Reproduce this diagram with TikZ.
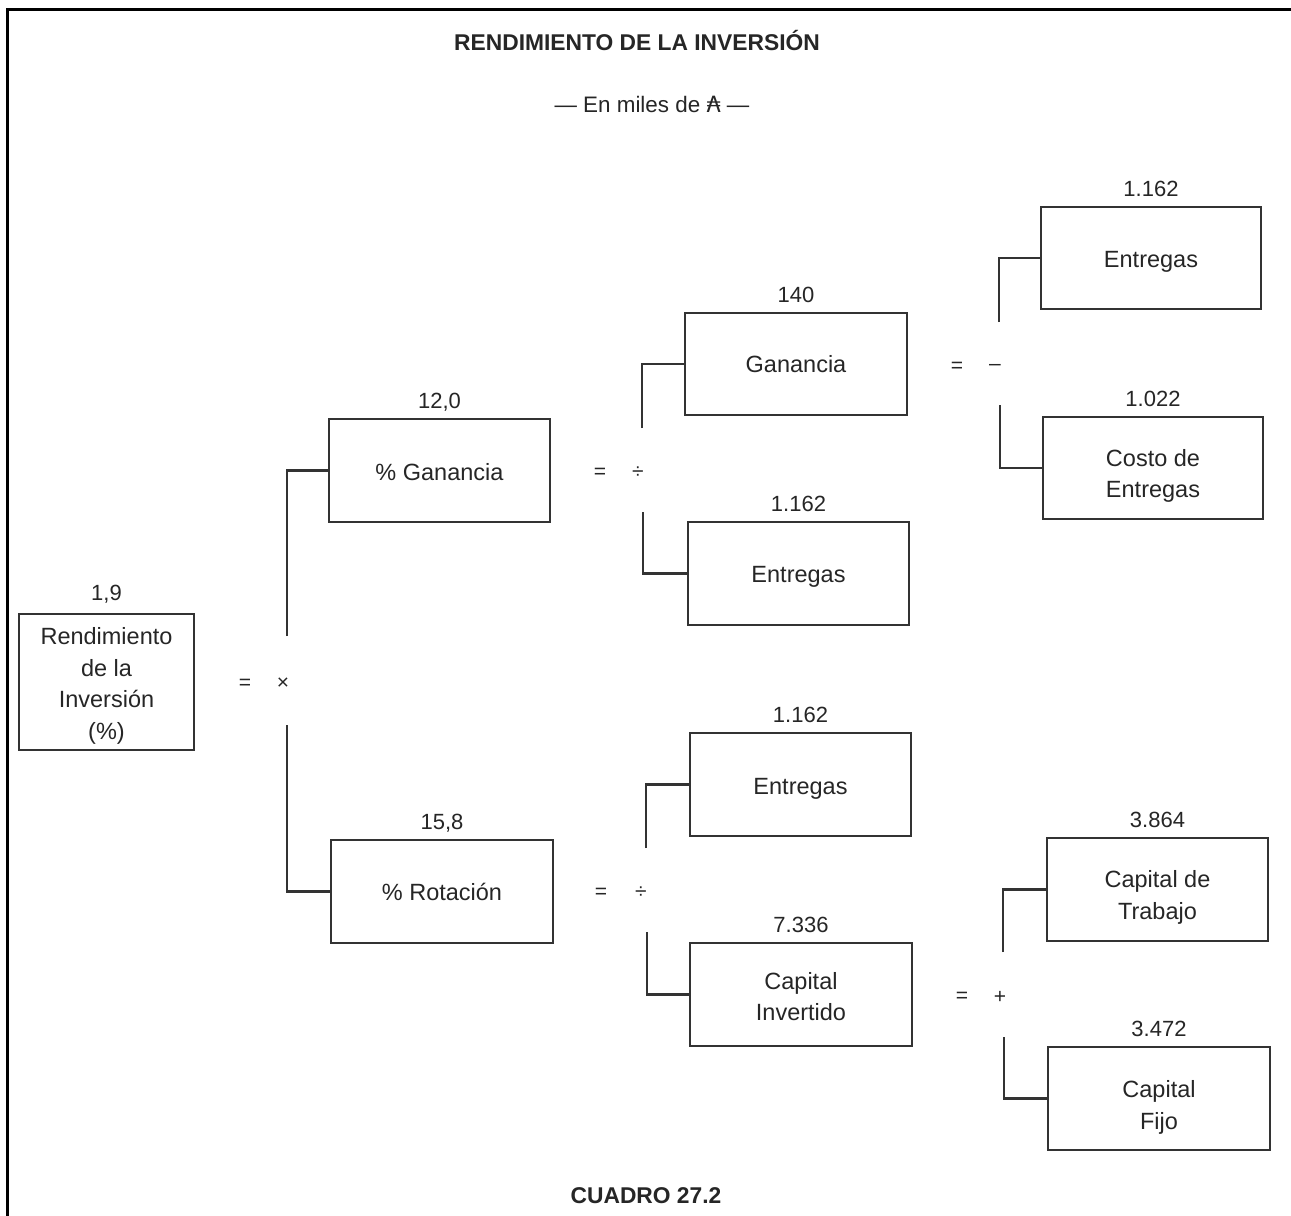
\documentclass[tikz,border=0pt]{standalone}
\usepackage{fontspec}
\setmainfont{Liberation Sans}
\newfontfamily\symfont{DejaVu Sans}
\begin{document}
\begin{tikzpicture}[x=1pt,y=-1pt,
  box/.style={draw=black!80, line width=2.8pt, rectangle, inner sep=0pt},
  btext/.style={align=center, text=black!85, inner sep=0pt, font=\fontsize{23.5}{31.5}\selectfont},
  num/.style={text=black!85, font=\fontsize{22}{24}\selectfont, inner sep=0pt, anchor=base},
  op/.style={text=black!85, font=\fontsize{21}{24}\selectfont, inner sep=0pt},
  conn/.style={draw=black!80, line width=2.8pt},
  title/.style={text=black!85, font=\bfseries\fontsize{22.8}{26}\selectfont, inner sep=0pt}
]
\useasboundingbox (0,0) rectangle (1291,1216);
\fill[white] (0,0) rectangle (1291,1216);
% frame
\draw[line width=3pt, black] (7,1216) -- (7,9) -- (1291,9);

% titles
\node[title] (t1) at (637,41) {RENDIMIENTO DE LA INVERSIÓN};
\node[title, font=\fontsize{22.4}{24}\selectfont] (t2) at (652,104) {— En miles de {\symfont ₳} —};
\node[title] (t3) at (646,1196) {CUADRO 27.2};

% boxes
\node[box, minimum width=175pt, minimum height=136pt] (R)  at (106.5,682) {};
\node[box, minimum width=221pt, minimum height=103pt] (PG) at (439.5,470.5) {};
\node[box, minimum width=222pt, minimum height=103pt] (PR) at (442,891.5) {};
\node[box, minimum width=222pt, minimum height=102pt] (G)  at (796,364) {};
\node[box, minimum width=221pt, minimum height=103pt] (E1) at (798.5,573.5) {};
\node[box, minimum width=221pt, minimum height=103pt] (E2) at (800.5,784.5) {};
\node[box, minimum width=222pt, minimum height=103pt] (CI) at (801,994.5) {};
\node[box, minimum width=220pt, minimum height=102pt] (E3) at (1151,258) {};
\node[box, minimum width=220pt, minimum height=102pt] (CE) at (1153,468) {};
\node[box, minimum width=221pt, minimum height=103pt] (CT) at (1157.5,889.5) {};
\node[box, minimum width=222pt, minimum height=103pt] (CF) at (1159,1098.5) {};

% box texts
\node[btext] (tR)  at ([yshift=-4pt]R.center)  {Rendimiento\\de la\\Inversión\\(\%)};
\node[btext] (tPG) at ([yshift=-2pt]PG.center) {\% Ganancia};
\node[btext] (tPR) at (PR.center) {\% Rotación};
\node[btext] (tG)  at (G.center)  {Ganancia};
\node[btext] (tE1) at ([yshift=-3pt]E1.center) {Entregas};
\node[btext] (tE2) at ([yshift=-4pt]E2.center) {Entregas};
\node[btext] (tCI) at ([yshift=-2pt]CI.center) {Capital\\Invertido};
\node[btext] (tE3) at ([yshift=-4pt]E3.center) {Entregas};
\node[btext] (tCE) at ([yshift=-8pt]CE.center) {Costo de\\Entregas};
\node[btext] (tCT) at ([yshift=-8pt]CT.center) {Capital de\\Trabajo};
\node[btext] (tCF) at ([yshift=-9pt]CF.center) {Capital\\Fijo};

% numbers
\node[num] (nR)  at ([yshift=12pt]R.north)  {1,9};
\node[num] (nPG) at ([yshift=9pt]PG.north) {12,0};
\node[num] (nPR) at ([yshift=9pt]PR.north) {15,8};
\node[num] (nG)  at ([yshift=9pt]G.north)  {140};
\node[num] (nE1) at ([yshift=9pt]E1.north) {1.162};
\node[num] (nE2) at ([yshift=9pt]E2.north) {1.162};
\node[num] (nCI) at ([yshift=9pt]CI.north) {7.336};
\node[num] (nE3) at ([yshift=9pt]E3.north) {1.162};
\node[num] (nCE) at ([yshift=9pt]CE.north) {1.022};
\node[num] (nCT) at ([yshift=9pt]CT.north) {3.864};
\node[num] (nCF) at ([yshift=9pt]CF.north) {3.472};

% operators
\node[op] (eq1) at (245,684) {=};
\node[op] (x1)  at (283,684) {×};
\node[op] (eq2) at (600,473) {=};
\node[op] (d2)  at (638,473) {÷};
\node[op] (eq3) at (601,893) {=};
\node[op] (d3)  at (641,893) {÷};
\node[op] (eq4) at (957,367) {=};
\node[op] (m4)  at (995,367) {–};
\node[op] (eq5) at (962,997) {=};
\node[op] (p5)  at (1000,997) {+};

% bracket ends
\coordinate (a1) at (287,636);
\coordinate (b1) at (287,725);
\coordinate (a2) at (642,428);
\coordinate (b2) at (643,512);
\coordinate (a3) at (646,848);
\coordinate (b3) at (647,932);
\coordinate (a4) at (999,322);
\coordinate (b4) at (1000,405);
\coordinate (a5) at (1003,952);
\coordinate (b5) at (1004,1037);

% connectors
\draw[conn] (a1) |- (PG.west);
\draw[conn] (b1) |- (PR.west);
\draw[conn] (a2) |- (G.west);
\draw[conn] (b2) |- (E1.west);
\draw[conn] (a3) |- (E2.west);
\draw[conn] (b3) |- (CI.west);
\draw[conn] (a4) |- (E3.west);
\draw[conn] (b4) |- (CE.west);
\draw[conn] (a5) |- (CT.west);
\draw[conn] (b5) |- (CF.west);
\end{tikzpicture}
\end{document}
